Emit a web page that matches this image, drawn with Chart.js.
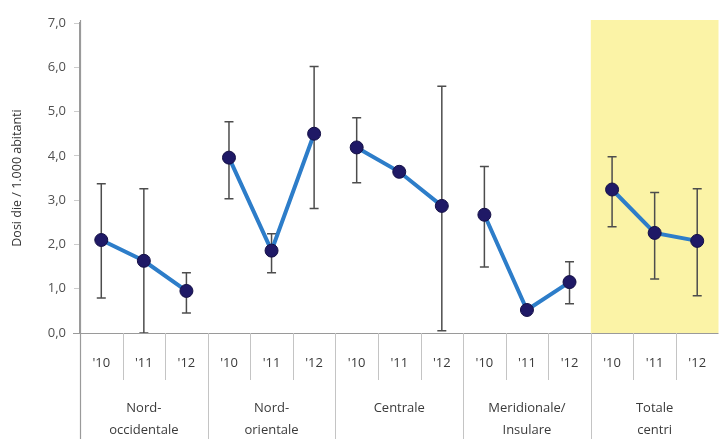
<!DOCTYPE html>
<html>
<head>
<meta charset="utf-8">
<script src="https://cdn.jsdelivr.net/npm/chart.js@4/dist/chart.umd.min.js"></script>
<style>
  html, body { margin: 0; padding: 0; background: #fff; }
  #wrap { width: 726px; height: 439px; }
</style>
</head>
<body>
<div id="wrap"><canvas id="c" width="726" height="439"></canvas></div>
<script>
// Years shown under each area, and the area names (one entry per line of text)
const years = ["'10", "'11", "'12"];
const regions = [
  ["Nord-", "occidentale"],
  ["Nord-", "orientale"],
  ["Centrale"],
  ["Meridionale/", "Insulare"],
  ["Totale", "centri"]
];
const highlightedRegion = 4;

// Dosi die per 1.000 abitanti, three years per area
const doses   = [2.10, 1.63, 0.95,  3.96, 1.86, 4.50,  4.19, 3.64, 2.87,  2.67, 0.52, 1.15,  3.24, 2.26, 2.08];
// Interval bounds (null = no interval drawn)
const errLow  = [0.79, 0.00, 0.45,  3.03, 1.36, 2.81,  3.39, null, 0.05,  1.49, null, 0.66,  2.40, 1.22, 0.84];
const errHigh = [3.37, 3.26, 1.36,  4.77, 2.24, 6.02,  4.86, null, 5.57,  3.76, null, 1.61,  3.98, 3.17, 3.26];

const yTicks = [0, 1, 2, 3, 4, 5, 6, 7];

const labels = [];
regions.forEach(() => years.forEach(y => labels.push(y)));

const datasets = regions.map((r, g) => ({
  data: labels.map((_, i) => Math.floor(i / years.length) === g ? doses[i] : null),
  borderColor: '#2d7dc9',
  borderWidth: 4,
  pointRadius: 6.5,
  pointHoverRadius: 6.5,
  pointBackgroundColor: '#1f1966',
  pointBorderColor: '#140f45',
  pointBorderWidth: 1,
  spanGaps: false,
  tension: 0
}));

const FONT = "'Open Sans', 'DejaVu Sans', sans-serif";

// Highlight band, interval whiskers and the two-level category axis
const decorations = {
  id: 'decorations',
  beforeDatasetsDraw(chart) {
    const { ctx, chartArea, scales: { x, y } } = chart;
    const n = labels.length;
    const step = (x.right - x.left) / n;
    const edge = i => x.left + step * i;

    // yellow band behind the highlighted area
    ctx.save();
    ctx.fillStyle = '#fbf3a6';
    const hx = edge(highlightedRegion * years.length);
    ctx.fillRect(hx, chartArea.top - 3, chartArea.right - hx, chartArea.bottom - chartArea.top + 3);
    ctx.restore();

    // interval whiskers
    ctx.save();
    ctx.strokeStyle = '#4d4d4d';
    ctx.lineWidth = 1.5;
    for (let i = 0; i < n; i++) {
      if (errLow[i] == null || errHigh[i] == null) continue;
      const px = x.getPixelForValue(i);
      const y1 = y.getPixelForValue(errHigh[i]);
      const y2 = y.getPixelForValue(errLow[i]);
      ctx.beginPath();
      ctx.moveTo(px, y1); ctx.lineTo(px, y2);
      ctx.moveTo(px - 4.5, y1); ctx.lineTo(px + 4.5, y1);
      ctx.moveTo(px - 4.5, y2); ctx.lineTo(px + 4.5, y2);
      ctx.stroke();
    }
    ctx.restore();
  },
  afterDraw(chart) {
    const { ctx, chartArea, scales: { x, y } } = chart;
    const n = labels.length;
    const step = (x.right - x.left) / n;
    const edge = i => x.left + step * i;
    const base = y.getPixelForValue(0);
    const H = chart.height;

    ctx.save();
    // horizontal axis line
    ctx.strokeStyle = '#9a9a9a';
    ctx.lineWidth = 1.2;
    ctx.beginPath();
    ctx.moveTo(chartArea.left - 7, base + 0.5);
    ctx.lineTo(chartArea.right, base + 0.5);
    ctx.stroke();

    // vertical axis continues down through the label rows
    ctx.beginPath();
    ctx.moveTo(chartArea.left + 0.5, chartArea.top - 3);
    ctx.lineTo(chartArea.left + 0.5, H);
    ctx.stroke();

    // separators: short between years, full height between areas
    ctx.strokeStyle = '#c4c4c4';
    ctx.lineWidth = 1;
    for (let i = 1; i < n; i++) {
      const ex = Math.round(edge(i)) + 0.5;
      const full = i % years.length === 0;
      ctx.beginPath();
      ctx.moveTo(ex, base);
      ctx.lineTo(ex, full ? H : base + 47);
      ctx.stroke();
    }

    // year labels
    ctx.fillStyle = '#3a3a3a';
    ctx.font = '13px ' + FONT;
    ctx.textAlign = 'center';
    ctx.textBaseline = 'middle';
    for (let i = 0; i < n; i++) {
      ctx.fillText(labels[i], x.getPixelForValue(i), base + 30);
    }

    // area labels
    ctx.font = '13px ' + FONT;
    regions.forEach((lines, g) => {
      const cx = (edge(g * years.length) + edge((g + 1) * years.length)) / 2;
      lines.forEach((t, k) => ctx.fillText(t, cx, base + 75 + k * 22));
    });
    ctx.restore();
  }
};

new Chart(document.getElementById('c'), {
  type: 'line',
  data: { labels, datasets },
  plugins: [decorations],
  options: {
    responsive: false,
    animation: false,
    devicePixelRatio: 1,
    layout: { padding: { top: 23, right: 0, bottom: 106, left: 0 } },
    plugins: { legend: { display: false }, tooltip: { enabled: false } },
    scales: {
      x: {
        type: 'category',
        offset: true,
        display: false
      },
      y: {
        min: 0,
        max: 7,
        afterBuildTicks(scale) { scale.ticks = yTicks.map(v => ({ value: v })); },
        afterFit(scale) { scale.width = 80; },
        border: { display: true, color: '#9a9a9a', width: 1.2 },
        grid: { drawOnChartArea: false, drawTicks: true, tickLength: 6, color: '#cccccc' },
        ticks: {
          padding: 8,
          color: '#505050',
          font: { family: FONT, size: 13 },
          callback: v => v.toFixed(1).replace('.', ',')
        },
        title: {
          display: true,
          text: 'Dosi die / 1.000 abitanti',
          color: '#333',
          font: { family: FONT, size: 12.5 },
          padding: { top: 10, bottom: 0 }
        }
      }
    }
  }
});
</script>
</body>
</html>
